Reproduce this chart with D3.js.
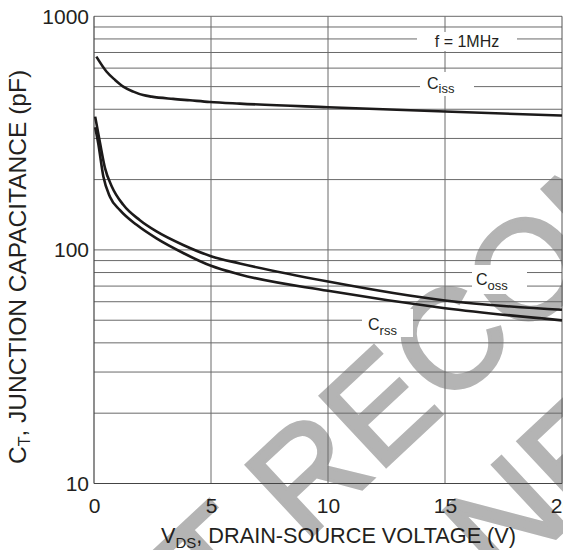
<!DOCTYPE html>
<html><head><meta charset="utf-8">
<script src="https://cdn.jsdelivr.net/npm/d3@7"></script>
<style>
body{margin:0;background:#fff}
svg{display:block}
text{font-family:"Liberation Sans",Arial,Helvetica,sans-serif}
</style>
</head><body>
<svg id="c" width="563" height="550"></svg>
<script>
// ---- data ----
const xTicks = [0, 5, 10, 15, 20];
const yTickLabels = [10, 100, 1000];

const cissV = [0.1, 0.54, 0.9, 1.25, 1.68, 2.1, 2.46, 3.38, 4.1, 4.95, 6.23, 10, 15, 20];
const cissC = [672, 579, 534, 500, 476, 460, 453, 443, 437, 430, 423, 408, 391, 376];

const cossV = [0.05, 0.26, 0.47, 0.76, 1.25, 1.96, 2.67, 3.81, 5, 6.23, 10, 15, 20];
const cossC = [372, 286, 224, 187, 156, 134, 120, 105, 94, 87.5, 73.2, 60.7, 55.4];

const crssV = [0.05, 0.18, 0.4, 0.68, 1.11, 1.82, 2.67, 3.81, 5, 6.23, 10, 15, 20];
const crssC = [335, 286, 206, 169, 148, 128, 112, 97, 85.5, 78.5, 66.8, 56.3, 49.9];

const watermarkLines = ["NOT RECOMMENDED", "FOR NEW DESIGN"];

// ---- chart ----
const svg = d3.select("#c");
const L = 94, R = 562, T = 16.3, B = 483.5;
const x = d3.scaleLinear().domain([0, 20]).range([L, R]);
const y = d3.scaleLog().domain([10, 1000]).range([B, T]);
const ink = "#231f20";

// watermark (behind everything)
const wm = svg.append("g")
  .attr("transform", "translate(380,472) rotate(-43)")
  .attr("fill", "#b4b4b4").attr("stroke", "#b4b4b4").attr("stroke-width", 3.5)
  .attr("stroke-linejoin", "miter")
  .style("font-size", "140px");
wm.append("text").attr("x", -436).attr("y", 0).text(watermarkLines[0]);
wm.append("text").attr("x", -325).attr("y", 168).text(watermarkLines[1]);

// horizontal grid
const gridG = svg.append("g");
gridG.selectAll("line.h").data(y.ticks().filter(d => d > 10 && d < 1000))
  .join("line").attr("class", "h")
  .attr("x1", L).attr("x2", R)
  .attr("y1", d => y(d)).attr("y2", d => y(d))
  .attr("stroke", "#6a6a6a").attr("stroke-width", 1);
// vertical grid
gridG.selectAll("line.v").data(xTicks.filter(d => d > 0 && d < 20))
  .join("line").attr("class", "v")
  .attr("x1", d => x(d)).attr("x2", d => x(d))
  .attr("y1", T).attr("y2", B)
  .attr("stroke", "#6a6a6a").attr("stroke-width", 1);

// frame
svg.append("line").attr("x1", L).attr("x2", R).attr("y1", T).attr("y2", T).attr("stroke", "#6a6a6a");
svg.append("line").attr("x1", R).attr("x2", R).attr("y1", T).attr("y2", B).attr("stroke", "#555");
svg.append("line").attr("x1", L).attr("x2", L).attr("y1", T).attr("y2", B).attr("stroke", "#444").attr("stroke-width", 1.2);
svg.append("line").attr("x1", L).attr("x2", R).attr("y1", B).attr("y2", B).attr("stroke", "#444").attr("stroke-width", 1.2);

// axes (labels only)
const yAxis = svg.append("g").attr("transform", `translate(${L},0)`)
  .call(d3.axisLeft(y).tickValues(yTickLabels).tickFormat(d3.format("d")).tickSize(0).tickPadding(5));
yAxis.select(".domain").remove();
yAxis.selectAll("text").style("font-size", "21px").attr("fill", ink)
  .style("font-family", '"Liberation Sans",Arial,sans-serif');

const xAxis = svg.append("g").attr("transform", `translate(0,${B})`)
  .call(d3.axisBottom(x).tickValues(xTicks).tickFormat(d3.format("d")).tickSize(0).tickPadding(15));
xAxis.select(".domain").remove();
xAxis.selectAll("text").style("font-size", "21px").attr("fill", ink)
  .style("font-family", '"Liberation Sans",Arial,sans-serif');

// curves
const line = d3.line().x(d => x(d[0])).y(d => y(d[1])).curve(d3.curveMonotoneX);
const series = [
  d3.zip(cissV, cissC),
  d3.zip(cossV, cossC),
  d3.zip(crssV, crssC)
];
svg.append("g").selectAll("path").data(series).join("path")
  .attr("d", line).attr("fill", "none")
  .attr("stroke", "#1c1a1a").attr("stroke-width", 2.6)
  .attr("stroke-linejoin", "round");

// in-plot labels with white boxes
function boxLabel(bx, by, bw, bh) {
  svg.append("rect").attr("x", bx).attr("y", by).attr("width", bw).attr("height", bh).attr("fill", "#fff");
}
boxLabel(417, 32, 100, 19);
svg.append("text").attr("x", 467).attr("y", 47).attr("text-anchor", "middle")
  .style("font-size", "16px").attr("fill", ink).text("f = 1MHz");

function capLabel(bx, by, bw, bh, tx, ty, sub) {
  boxLabel(bx, by, bw, bh);
  const t = svg.append("text").attr("x", tx).attr("y", ty).attr("fill", ink).style("font-size", "16px");
  t.append("tspan").text("C");
  t.append("tspan").attr("dy", 4.5).style("font-size", "13px").text(sub);
}
capLabel(420, 72, 54, 24, 427, 88.5, "iss");
capLabel(472, 265, 55, 29, 476, 285, "oss");
capLabel(362, 309, 51, 28, 368, 330, "rss");

// axis titles
const xt = svg.append("text").attr("x", 161).attr("y", 543).attr("fill", ink).style("font-size", "21.7px");
xt.append("tspan").text("V");
xt.append("tspan").attr("dy", 5).style("font-size", "15px").text("DS");
xt.append("tspan").attr("dy", -5).text(", DRAIN-SOURCE VOLTAGE (V)");

const yt = svg.append("text").attr("transform", "translate(26,267) rotate(-90)")
  .attr("text-anchor", "middle").attr("fill", ink).style("font-size", "24.5px");
yt.append("tspan").text("C");
yt.append("tspan").attr("dy", 4).style("font-size", "16px").text("T");
yt.append("tspan").attr("dy", -4).text(", JUNCTION CAPACITANCE (pF)");
</script>
</body></html>
